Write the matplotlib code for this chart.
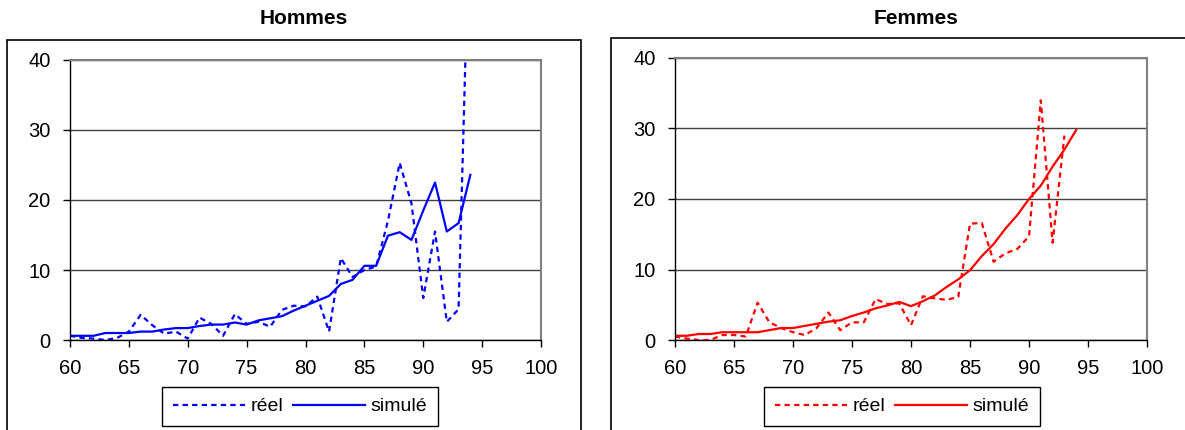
import numpy as np
import matplotlib
matplotlib.use('Agg')
import matplotlib.pyplot as plt
from matplotlib.patches import Rectangle

plt.rcParams['font.family'] = ['Liberation Sans', 'DejaVu Sans']

# data
ages = list(range(60, 95))
hommes_reel = [0.6, 0.3, 0.2, 0.0, 0.3, 1.2, 3.6, 2.1, 0.9, 1.2,
               0.2, 3.2, 2.3, 0.6, 3.7, 2.3, 2.6, 1.9, 4.3, 4.9,
               4.8, 6.2, 1.2, 11.7, 9.0, 10.0, 10.5, 17.0, 25.3, 19.5,
               6.0, 15.5, 2.6, 4.4, 66.0]
hommes_simule = [0.6, 0.6, 0.6, 1.0, 1.0, 1.0, 1.2, 1.2, 1.5, 1.7,
                 1.7, 2.0, 2.2, 2.2, 2.5, 2.2, 2.8, 3.1, 3.4, 4.2,
                 4.9, 5.6, 6.3, 8.0, 8.6, 10.6, 10.6, 14.9, 15.4, 14.3,
                 18.5, 22.5, 15.5, 16.7, 23.6]
femmes_reel = [0.5, 0.2, 0.0, 0.0, 0.7, 0.7, 0.5, 5.3, 2.5, 1.7,
               1.1, 0.7, 1.7, 3.9, 1.4, 2.5, 2.5, 5.8, 5.1, 5.2,
               2.1, 6.2, 5.9, 5.7, 6.1, 16.5, 16.6, 11.1, 12.3, 12.9,
               14.7, 34.0, 13.8, 29.0, np.nan]
femmes_simule = [0.6, 0.6, 0.85, 0.85, 1.1, 1.1, 1.1, 1.1, 1.4, 1.7,
                 1.7, 2.0, 2.3, 2.6, 2.8, 3.4, 3.9, 4.5, 4.9, 5.4,
                 4.8, 5.5, 6.3, 7.5, 8.6, 9.9, 11.9, 13.6, 15.8, 17.7,
                 20.0, 21.9, 24.6, 27.0, 29.8]
titles = ['Hommes', 'Femmes']
labels = ['réel', 'simulé']
x_ticks = [60, 65, 70, 75, 80, 85, 90, 95, 100]
y_ticks = [0, 10, 20, 30, 40]

W, H = 1185, 430
fig = plt.figure(figsize=(W / 100, H / 100), dpi=100)

def box(x0, y0, x1, y1):
    # pixel box (top-left origin) -> figure fraction
    return [x0 / W, 1 - y1 / H, (x1 - x0) / W, (y1 - y0) / H]

panels = [
    dict(title=titles[0], reel=hommes_reel, sim=hommes_simule, color='#0000ff',
         frame=(7, 40, 581, 440), ax=(70, 60, 541, 340), tx=304, leg=(162, 387)),
    dict(title=titles[1], reel=femmes_reel, sim=femmes_simule, color='#ff0000',
         frame=(611, 38, 1195, 440), ax=(675, 58, 1147, 340), tx=916, leg=(764, 387)),
]

for p in panels:
    x0, y0, x1, y1 = p['frame']
    fig.patches.append(Rectangle((x0 / W, 1 - y1 / H), (x1 - x0) / W, (y1 - y0) / H,
                                 transform=fig.transFigure, fill=False,
                                 edgecolor='black', linewidth=1.2))
    fig.text(p['tx'] / W, 1 - 18 / H, p['title'], ha='center', va='center',
             fontsize=15, fontweight='bold')

    ax = fig.add_axes(box(*p['ax']))
    l1, = ax.plot(ages, p['reel'], color=p['color'], lw=1.6, dashes=(2.4, 1.9))
    l2, = ax.plot(ages, p['sim'], color=p['color'], lw=1.6)
    ax.set_xlim(60, 100)
    ax.set_ylim(0, 40)
    ax.set_xticks(x_ticks)
    ax.set_yticks(y_ticks)
    ax.yaxis.grid(True, color='#404040', lw=1.0)
    ax.set_axisbelow(True)
    for s in ['top', 'right']:
        ax.spines[s].set_color('#808080')
        ax.spines[s].set_linewidth(1.5)
    for s in ['left', 'bottom']:
        ax.spines[s].set_color('black')
        ax.spines[s].set_linewidth(1.0)
    ax.tick_params(direction='out', length=5, width=1, labelsize=14.5, colors='black')
    ax.tick_params(axis='y', pad=9)
    ax.tick_params(axis='x', pad=9)

    lx, ly = p['leg']
    leg = ax.legend([l1, l2], labels, ncol=2, loc='upper left',
                    bbox_to_anchor=(lx / W, 1 - ly / H),
                    bbox_transform=fig.transFigure, borderaxespad=0,
                    fontsize=14, handlelength=3.7, handletextpad=0.3,
                    columnspacing=0.5, borderpad=0.55, frameon=True,
                    fancybox=False, framealpha=1, edgecolor='black')
    leg.get_frame().set_linewidth(1.0)

fig.savefig('out.png', dpi=100)
